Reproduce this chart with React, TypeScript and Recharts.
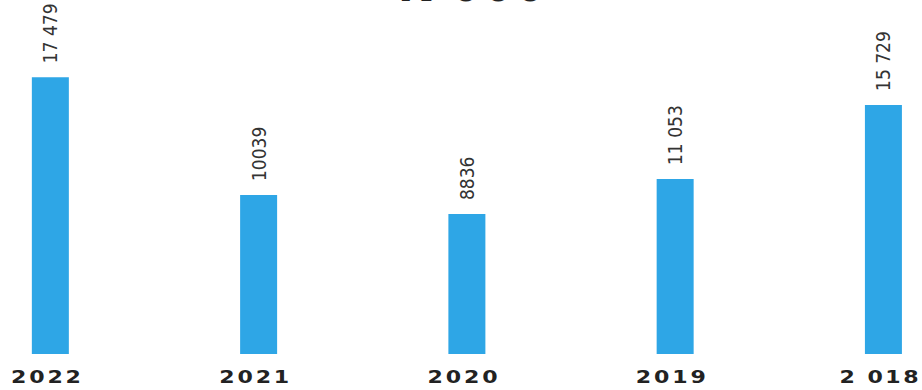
import React from 'react';
import { BarChart, Bar, XAxis, YAxis, LabelList } from 'recharts';

const years = ['2022', '2021', '2020', '2019', '2 018'];
const values = [17479, 10039, 8836, 11053, 15729];
const valueLabels = ['17 479', '10039', '8836', '11 053', '15 729'];

const data = years.map((year, i) => ({ idx: i, year, value: values[i], label: valueLabels[i] }));

const BAR_COLOR = '#2EA6E6';

// year labels in the scan are wide glyphs with open spacing
const YearTick = (props: any) => {
  const { x, y, payload } = props;
  const label = years[payload.value];
  const sx = 1.3;
  const cx = x - 4;
  return (
    <text
      x={cx}
      y={y + 29}
      transform={`translate(${cx} 0) scale(${sx} 1) translate(${-cx} 0)`}
      textAnchor="middle"
      fontFamily="'DejaVu Sans', sans-serif"
      fontWeight="bold"
      fontSize={17}
      textLength={(label.includes(' ') ? 79 : 70) / sx}
      lengthAdjust="spacing"
      fill="#222"
    >
      {label}
    </text>
  );
};

const ValueLabel = (props: any) => {
  const { x, y, width, value } = props;
  const cx = x + width / 2;
  const ty = y - 14;
  return (
    <text
      x={cx}
      y={ty}
      transform={`rotate(-90, ${cx}, ${ty})`}
      textAnchor="start"
      dominantBaseline="central"
      fontFamily="'DejaVu Sans', sans-serif"
      style={{ fontStretch: 'condensed' }}
      fontSize={19}
      fill="#333"
    >
      {value}
    </text>
  );
};

const App: React.FC = () => {
  return (
    <div style={{ position: 'fixed', left: 0, top: 0, width: 922, height: 390, background: '#fff', overflow: 'hidden' }}>
      {/* title, cut off by the top edge in the scan */}
      <svg width={922} height={40} style={{ position: 'absolute', left: 0, top: 0 }}>
        <text x={398} y={1} fontFamily="'DejaVu Sans', sans-serif" fontWeight="bold" fontSize={42} letterSpacing={3} fill="#222">
          K 000
        </text>
      </svg>
      <BarChart width={922} height={390} data={data} margin={{ top: 0, right: 0, bottom: 0, left: 0 }}>
        <XAxis
          dataKey="idx"
          type="number"
          domain={[-0.24, 4.187]}
          ticks={[0, 1, 2, 3, 4]}
          allowDataOverflow
          axisLine={false}
          tickLine={false}
          tickSize={0}
          tickMargin={0}
          height={36}
          tick={<YearTick />}
          interval={0}
        />
        <YAxis hide domain={[0, 22360]} allowDataOverflow />
        <Bar dataKey="value" fill={BAR_COLOR} barSize={37} isAnimationActive={false}>
          <LabelList dataKey="label" content={<ValueLabel />} />
        </Bar>
      </BarChart>
    </div>
  );
};

export default App;
